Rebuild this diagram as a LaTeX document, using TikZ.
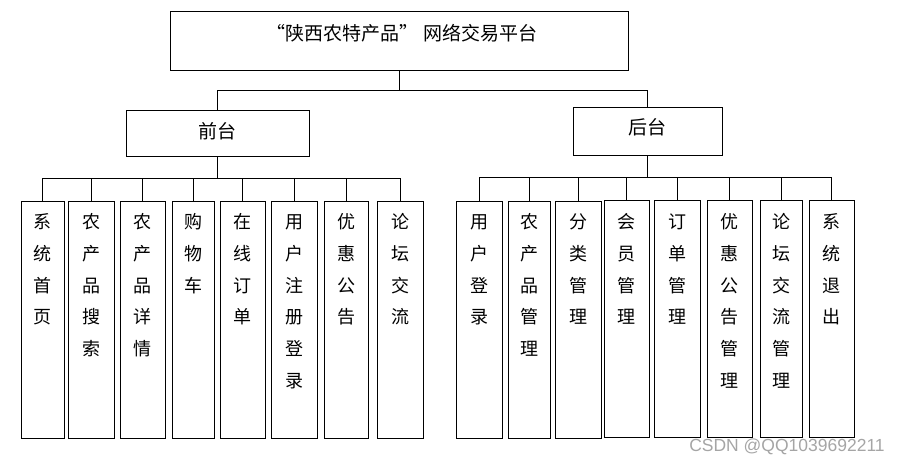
\documentclass[tikz,border=0pt]{standalone}
\usepackage{fontspec}
\newfontfamily\cjk{Noto Sans CJK SC}
\newfontfamily\wmfont{Liberation Sans}
\definecolor{wmgray}{RGB}{165,165,165}
\newcommand\leaf[5]{%
  \node[rect, minimum width=#4, minimum height=237] (#1) at (#2,#3) {};
  \foreach \c [count=\i] in {#5} {\node[chr] (#1-\i) at (#2,{222+(\i-1)*31.7}) {\c};}
}
\begin{document}
\begin{tikzpicture}[x=1pt,y=-1pt,
  every node/.style={inner sep=0pt, outer sep=0pt},
  rect/.style={draw, line width=1pt, rectangle},
  chr/.style={font=\cjk\fontsize{18}{18}\selectfont, text height=15.84pt, text depth=2.16pt, anchor=center},
  head/.style={font=\cjk\fontsize{19}{19}\selectfont, text height=16.72pt, text depth=2.28pt, anchor=center},
  conn/.style={line width=1pt}]
\useasboundingbox (0,0) rectangle (901,464);
% top
\node[rect, minimum width=458, minimum height=59] (top) at (399,40.5) {};
\node[head] (title) at (402,33) {“\kern1pt 陕西农特产品”\kern5pt 网络交易平台};
\node[rect, minimum width=183, minimum height=46] (front) at (217.5,133) {};
\node[head] (fronttext) at (217.5,131) {前台};
\node[rect, minimum width=149, minimum height=48] (back) at (647.5,131) {};
\node[head] (backtext) at (647.5,127) {后台};
\coordinate (jy) at (0,90);
\coordinate (fy) at (0,178);
\coordinate (by) at (0,177);
% front leaves
\leaf{f1}{42.5}{319.5}{43}{系,统,首,页}
\leaf{f2}{91}{319.5}{46}{农,产,品,搜,索}
\leaf{f3}{142.5}{319.5}{45}{农,产,品,详,情}
\leaf{f4}{193}{319.5}{42}{购,物,车}
\leaf{f5}{242.5}{319.5}{45}{在,线,订,单}
\leaf{f6}{294}{319.5}{46}{用,户,注,册,登,录}
\leaf{f7}{346}{319.5}{44}{优,惠,公,告}
\leaf{f8}{400}{319.5}{46}{论,坛,交,流}
% back leaves
\leaf{b1}{479}{319.5}{46}{用,户,登,录}
\leaf{b2}{529}{319.5}{42}{农,产,品,管,理}
\leaf{b3}{578}{319.5}{46}{分,类,管,理}
\leaf{b4}{626.5}{318.5}{45}{会,员,管,理}
\leaf{b5}{677}{318.5}{46}{订,单,管,理}
\leaf{b6}{729.5}{318.5}{45}{优,惠,公,告,管,理}
\leaf{b7}{781}{318.5}{42}{论,坛,交,流,管,理}
\leaf{b8}{831.5}{318.5}{45}{系,统,退,出}
% connectors
\draw[conn] (top.south) -- (top.south |- jy);
\draw[conn] (front.north) -- (front.north |- jy) -- (back.north |- jy) -- (back.north);
\draw[conn] (front.south) -- (front.south |- fy);
\draw[conn] (f1.north) -- (f1.north |- fy) -- (f8.north |- fy) -- (f8.north);
\foreach \n in {f2,f3,f4,f5,f6,f7} {\draw[conn] (\n.north) -- (\n.north |- fy);}
\draw[conn] (back.south) -- (back.south |- by);
\draw[conn] (b1.north) -- (b1.north |- by) -- (b8.north |- by) -- (b8.north);
\foreach \n in {b2,b3,b4,b5,b6,b7} {\draw[conn] (\n.north) -- (\n.north |- by);}
% watermark
\node[font=\wmfont\fontsize{17.5}{17.5}\selectfont, text=wmgray] (wm) at (787,447) {CSDN @QQ1039692211};
\end{tikzpicture}
\end{document}
